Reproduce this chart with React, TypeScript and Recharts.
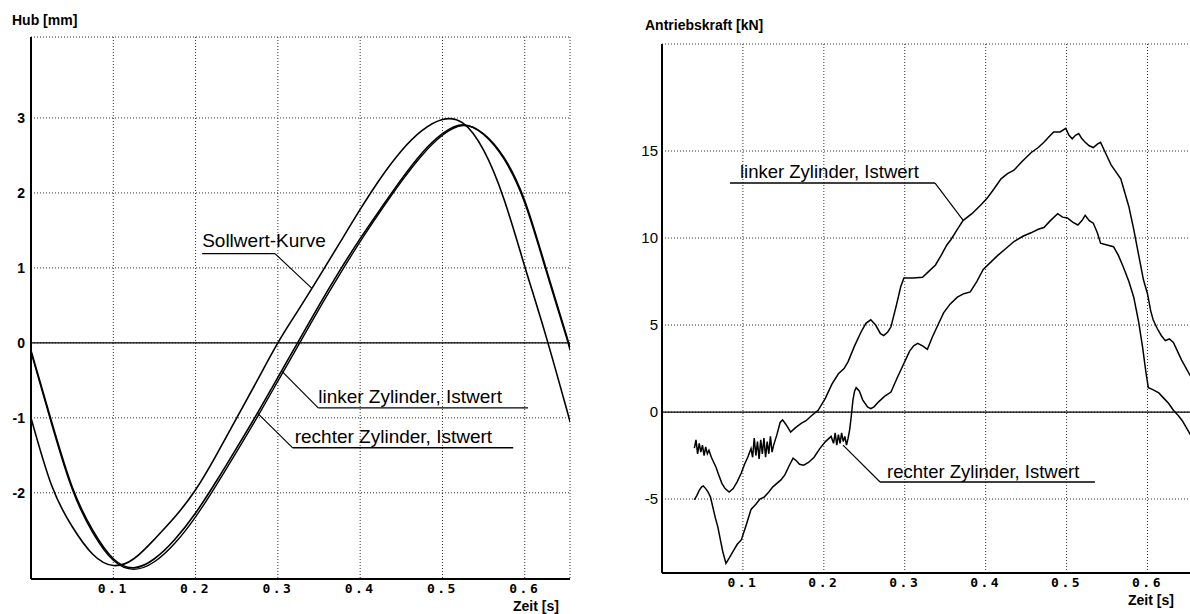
import React from "react";
import {
  LineChart,
  Line,
  XAxis,
  YAxis,
  CartesianGrid,
  ReferenceLine,
} from "recharts";

// ---- Hub [mm] (left chart) ----
const hubTime = [
  0, 0.025, 0.05, 0.075, 0.1, 0.125, 0.15, 0.175, 0.2, 0.225, 0.25, 0.275,
  0.3, 0.325, 0.35, 0.375, 0.4, 0.425, 0.45, 0.475, 0.5, 0.525, 0.55, 0.575,
  0.6, 0.625, 0.65, 0.655,
];
const hubSoll = [
  -1.0, -1.9, -2.45, -2.82, -2.97, -2.88, -2.62, -2.32, -1.96, -1.5, -1.0,
  -0.5, 0.0, 0.44, 0.88, 1.33, 1.78, 2.2, 2.56, 2.83, 2.98, 2.93, 2.57, 1.91,
  1.02, 0.12, -0.85, -1.05,
];
const hubLinks = [
  -0.1, -1.05, -1.92, -2.5, -2.88, -3.0, -2.88, -2.62, -2.27, -1.85, -1.4,
  -0.94, -0.46, 0.02, 0.5, 0.96, 1.39, 1.79, 2.18, 2.53, 2.79, 2.91, 2.78,
  2.45, 1.87, 1.0, 0.1, -0.1,
];
const hubRechts = [
  -0.12, -1.08, -1.95, -2.53, -2.9, -3.02, -2.92, -2.67, -2.32, -1.9, -1.45,
  -0.99, -0.51, -0.03, 0.45, 0.91, 1.35, 1.76, 2.15, 2.5, 2.77, 2.9, 2.79,
  2.47, 1.9, 1.03, 0.13, -0.08,
];
const hubTicks = [-2, -1, 0, 1, 2, 3];

// ---- Antriebskraft [kN] (right chart), [t, kN] ----
const kraftLinks: [number, number][] = [
  [0.04, -2.07], [0.042, -1.6], [0.044, -2.4], [0.046, -1.8], [0.048, -2.3],
  [0.05, -1.9], [0.052, -2.5], [0.054, -2.0], [0.056, -2.4], [0.058, -2.2],
  [0.061, -2.6], [0.064, -2.9], [0.067, -3.2], [0.07, -3.6], [0.074, -4.1],
  [0.078, -4.4], [0.083, -4.6], [0.088, -4.4], [0.093, -4.0], [0.098, -3.5],
  [0.102, -3.0], [0.106, -2.6], [0.11, -2.1], [0.112, -2.6], [0.114, -1.5],
  [0.116, -2.5], [0.118, -1.7], [0.12, -2.7], [0.122, -1.6], [0.124, -2.4],
  [0.126, -1.5], [0.128, -2.6], [0.13, -1.7], [0.132, -2.4], [0.134, -1.4],
  [0.136, -2.3], [0.138, -1.9], [0.142, -1.3], [0.146, -0.6], [0.149, -0.45],
  [0.153, -0.7], [0.159, -1.15], [0.165, -0.9], [0.172, -0.65], [0.178, -0.5],
  [0.185, -0.2], [0.193, 0.1], [0.202, 0.8], [0.21, 1.6], [0.218, 2.2],
  [0.225, 2.5], [0.23, 2.9], [0.238, 3.8], [0.246, 4.6], [0.252, 5.1],
  [0.258, 5.3], [0.264, 5.0], [0.27, 4.5], [0.274, 4.4], [0.279, 4.6],
  [0.283, 4.9], [0.29, 6.2], [0.295, 7.2], [0.299, 7.7], [0.31, 7.7],
  [0.322, 7.75], [0.33, 8.1], [0.338, 8.45], [0.345, 9.0], [0.352, 9.6],
  [0.357, 9.9], [0.365, 10.5], [0.372, 11.0], [0.383, 11.4], [0.394, 11.9],
  [0.402, 12.3], [0.41, 12.8], [0.419, 13.4], [0.427, 13.7], [0.435, 13.9],
  [0.445, 14.4], [0.456, 14.9], [0.465, 15.2], [0.472, 15.5], [0.478, 15.8],
  [0.484, 16.1], [0.492, 16.1], [0.499, 16.3], [0.503, 15.9], [0.507, 15.7],
  [0.511, 15.9], [0.515, 16.0], [0.519, 15.7], [0.523, 15.5], [0.528, 15.3],
  [0.533, 15.2], [0.538, 15.4], [0.542, 15.5], [0.546, 15.1], [0.55, 14.7],
  [0.555, 14.2], [0.561, 13.8], [0.567, 13.4], [0.572, 12.6], [0.577, 11.8],
  [0.583, 10.5], [0.59, 8.8], [0.595, 7.6], [0.6, 6.8], [0.604, 5.8],
  [0.607, 5.3], [0.612, 4.8], [0.617, 4.4], [0.622, 4.1], [0.627, 4.2],
  [0.632, 4.0], [0.637, 3.5], [0.642, 3.0], [0.648, 2.5], [0.655, 1.9],
];
const kraftRechts: [number, number][] = [
  [0.04, -5.05], [0.043, -4.8], [0.046, -4.5], [0.049, -4.3], [0.051, -4.25],
  [0.054, -4.4], [0.057, -4.6], [0.06, -4.9], [0.063, -5.5], [0.066, -6.1],
  [0.069, -6.6], [0.072, -7.3], [0.075, -8.0], [0.079, -8.7], [0.083, -8.4],
  [0.088, -8.0], [0.093, -7.6], [0.098, -7.35], [0.104, -6.5], [0.11, -5.6],
  [0.116, -5.3], [0.121, -5.0], [0.126, -4.9], [0.132, -4.6], [0.137, -4.3],
  [0.142, -4.1], [0.147, -3.9], [0.152, -3.6], [0.157, -3.1], [0.162, -2.65],
  [0.166, -2.8], [0.17, -3.0], [0.175, -3.05], [0.181, -2.9], [0.188, -2.6],
  [0.195, -2.1], [0.202, -1.7], [0.209, -1.4], [0.212, -1.8], [0.214, -1.2],
  [0.216, -1.9], [0.218, -1.3], [0.22, -1.8], [0.222, -1.2], [0.224, -1.7],
  [0.226, -1.4], [0.228, -1.9], [0.23, -1.5], [0.232, -1.0], [0.234, -0.2],
  [0.236, 0.7], [0.238, 1.2], [0.24, 1.4], [0.244, 1.2], [0.248, 0.7],
  [0.254, 0.3], [0.258, 0.2], [0.262, 0.3], [0.268, 0.6], [0.275, 0.9],
  [0.283, 1.15], [0.29, 1.9], [0.296, 2.5], [0.301, 3.0], [0.306, 3.5],
  [0.311, 3.8], [0.316, 3.95], [0.322, 3.8], [0.328, 3.6], [0.334, 4.3],
  [0.341, 5.0], [0.348, 5.7], [0.356, 6.2], [0.365, 6.6], [0.373, 6.8],
  [0.381, 6.9], [0.389, 7.5], [0.397, 8.2], [0.406, 8.6], [0.415, 9.0],
  [0.425, 9.4], [0.435, 9.8], [0.446, 10.1], [0.456, 10.3], [0.465, 10.5],
  [0.472, 10.6], [0.48, 11.0], [0.489, 11.4], [0.495, 11.2], [0.501, 11.15],
  [0.508, 10.9], [0.514, 10.75], [0.519, 11.0], [0.523, 11.3], [0.528, 11.0],
  [0.533, 10.85], [0.538, 10.3], [0.542, 9.7], [0.55, 9.6], [0.558, 9.5],
  [0.564, 9.0], [0.57, 8.35], [0.577, 7.5], [0.583, 6.6], [0.589, 5.2],
  [0.594, 3.7], [0.598, 2.3], [0.601, 1.4], [0.606, 1.3], [0.614, 1.1],
  [0.62, 0.8], [0.626, 0.5], [0.632, 0.1], [0.638, -0.2], [0.643, -0.5],
  [0.648, -0.9], [0.653, -1.3], [0.655, -1.45],
];
const kraftTicks = [-5, 0, 5, 10, 15];
const timeTicks = [0.1, 0.2, 0.3, 0.4, 0.5, 0.6];

// annotations: point on curve -> corner -> end of underline (data coords)
type Note = {
  text: string;
  curve: [number, number];
  corner: [number, number];
  end: [number, number];
  dx: number;
  dy: number;
};
const hubNotes: Note[] = [
  { text: "Sollwert-Kurve", curve: [0.341, 0.73], corner: [0.2965, 1.19], end: [0.208, 1.19], dx: 0, dy: 7 },
  { text: "linker Zylinder, Istwert", curve: [0.305, -0.38], corner: [0.349, -0.867], end: [0.604, -0.867], dx: 0, dy: 5 },
  { text: "rechter Zylinder, Istwert", curve: [0.2746, -0.93], corner: [0.318, -1.4], end: [0.586, -1.4], dx: 2, dy: 5 },
];
const kraftNotes: Note[] = [
  { text: "linker Zylinder, Istwert", curve: [0.372, 11.03], corner: [0.3375, 13.16], end: [0.084, 13.16], dx: 10, dy: 5 },
  { text: "rechter Zylinder, Istwert", curve: [0.2237, -1.9], corner: [0.2695, -4.02], end: [0.535, -4.02], dx: 7, dy: 4 },
];

const SANS = "'Liberation Sans', Arial, sans-serif";
const MONO = "'DejaVu Sans Mono', monospace";

const hubData = hubTime.map((t, i) => ({
  t,
  soll: hubSoll[i],
  links: hubLinks[i],
  rechts: hubRechts[i],
}));
const toRows = (pts: [number, number][]) => pts.map(([t, v]) => ({ t, v }));

function noteLabel(text: string, dx: number, dy: number, size: number) {
  return (props: any) => {
    const vb = props.viewBox || {};
    return (
      <text x={vb.x + dx} y={vb.y - dy} fontSize={size} fontFamily={SANS} fill="#000">
        {text}
      </text>
    );
  };
}

function renderNotes(notes: Note[], size: number) {
  return notes.map((n, i) => [
    <ReferenceLine
      key={`lead${i}`}
      segment={[
        { x: n.curve[0], y: n.curve[1] },
        { x: n.corner[0], y: n.corner[1] },
      ]}
      stroke="#000"
      strokeWidth={1.2}
      ifOverflow="visible"
    />,
    <ReferenceLine
      key={`under${i}`}
      segment={[
        { x: n.corner[0], y: n.corner[1] },
        { x: n.end[0], y: n.end[1] },
      ]}
      stroke="#000"
      strokeWidth={1.4}
      ifOverflow="visible"
      label={noteLabel(n.text, n.dx, n.dy, size)}
    />,
  ]);
}

const xTick = { fontFamily: MONO, fontSize: 13, fontWeight: "bold", fill: "#000", letterSpacing: 2.5 };
const frame = { stroke: "#000", strokeWidth: 2 };
const gridColor = "#333";

function HubChart() {
  return (
    <LineChart width={580} height={614} data={hubData} margin={{ top: 37, right: 10, bottom: 5, left: 0 }}>
      <CartesianGrid strokeDasharray="1 2" stroke={gridColor} />
      <XAxis
        dataKey="t"
        type="number"
        domain={[0, 0.655]}
        ticks={timeTicks}
        interval={0}
        allowDataOverflow
        height={30}
        tickLine={false}
        tickSize={0}
        tickMargin={5}
        axisLine={frame}
        tick={xTick}
        tickFormatter={(v: number) => v.toFixed(1)}
      />
      <XAxis xAxisId="top" orientation="top" type="number" domain={[0, 1]} height={0} tick={false} tickLine={false} axisLine={frame} />
      <YAxis
        type="number"
        domain={[-3.15, 4.08]}
        ticks={hubTicks}
        interval={0}
        allowDataOverflow
        width={31}
        tickLine={false}
        tickSize={0}
        tickMargin={6}
        axisLine={frame}
        tick={{ fontFamily: SANS, fontSize: 14, fontWeight: "bold", fill: "#000" }}
      />
      <YAxis yAxisId="right" orientation="right" type="number" domain={[0, 1]} width={0} tick={false} tickLine={false} axisLine={frame} />
      <ReferenceLine y={0} stroke="#000" strokeWidth={1.2} />
      <Line type="natural" dataKey="soll" stroke="#000" strokeWidth={1.6} dot={false} isAnimationActive={false} />
      <Line type="natural" dataKey="links" stroke="#000" strokeWidth={1.6} dot={false} isAnimationActive={false} />
      <Line type="natural" dataKey="rechts" stroke="#000" strokeWidth={1.4} dot={false} isAnimationActive={false} />
      {renderNotes(hubNotes, 19)}
    </LineChart>
  );
}

function KraftChart() {
  return (
    <LineChart width={562} height={614} margin={{ top: 44, right: 0, bottom: 5, left: 0 }}>
      <CartesianGrid strokeDasharray="1 2" stroke={gridColor} />
      <XAxis
        dataKey="t"
        type="number"
        domain={[0, 0.655]}
        ticks={timeTicks}
        interval={0}
        allowDataOverflow
        height={36}
        tickLine={false}
        tickSize={0}
        tickMargin={5}
        axisLine={frame}
        tick={xTick}
        tickFormatter={(v: number) => v.toFixed(1)}
      />
      <XAxis xAxisId="top" orientation="top" type="number" domain={[0, 1]} height={0} tick={false} tickLine={false} axisLine={frame} />
      <YAxis
        type="number"
        domain={[-9.25, 21.15]}
        ticks={kraftTicks}
        interval={0}
        allowDataOverflow
        width={32}
        tickLine={false}
        tickSize={0}
        tickMargin={4}
        axisLine={frame}
        tick={{ fontFamily: SANS, fontSize: 15, fill: "#000" }}
      />
      <ReferenceLine y={0} stroke="#000" strokeWidth={1.2} />
      <Line data={toRows(kraftLinks)} type="linear" dataKey="v" stroke="#000" strokeWidth={1.5} dot={false} isAnimationActive={false} />
      <Line data={toRows(kraftRechts)} type="linear" dataKey="v" stroke="#000" strokeWidth={1.5} dot={false} isAnimationActive={false} />
      {renderNotes(kraftNotes, 18.5)}
    </LineChart>
  );
}

const title = { position: "absolute" as const, fontFamily: SANS, fontWeight: "bold" as const, fontSize: 14, lineHeight: 1, color: "#000" };

export default function App() {
  return (
    <div style={{ position: "fixed", left: 0, top: 0, width: 1190, height: 614, overflow: "hidden", background: "#fff" }}>
      <div style={{ position: "absolute", left: 0, top: 0 }}>
        <HubChart />
      </div>
      <div style={{ position: "absolute", left: 630, top: 0 }}>
        <KraftChart />
      </div>
      <div style={{ ...title, left: 12, top: 13 }}>Hub [mm]</div>
      <div style={{ ...title, left: 513, top: 599 }}>Zeit [s]</div>
      <div style={{ ...title, left: 645, top: 18 }}>Antriebskraft [kN]</div>
      <div style={{ ...title, left: 1128, top: 593 }}>Zeit [s]</div>
    </div>
  );
}
